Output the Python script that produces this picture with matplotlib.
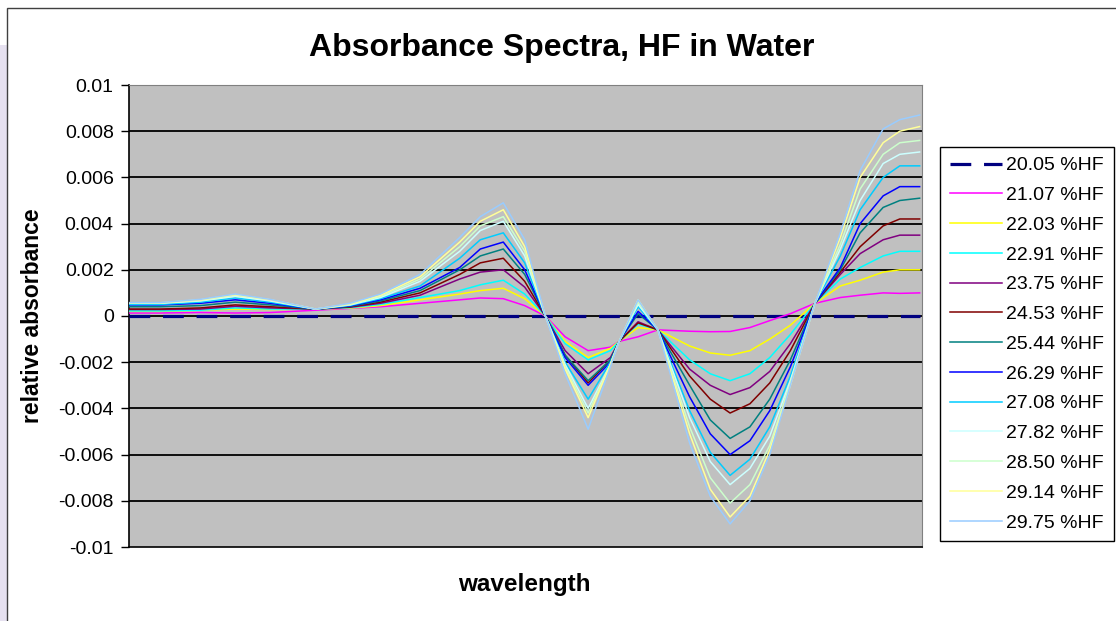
import matplotlib
matplotlib.use("Agg")
import matplotlib.pyplot as plt
from matplotlib.patches import Rectangle

# ---------------- data ----------------
# wavelength positions (arbitrary index, axis is unlabeled)
wavelength = [0, 3.9, 9.0, 13.4, 17.8, 23.5, 27.9, 31.7, 36.7, 41.7, 44.3, 47.2,
              49.9, 52.5, 55.0, 57.9, 60.7, 61.8, 64.2, 66.7, 70.7, 73.3, 75.8,
              78.3, 80.8, 83.4, 86.5, 89.7, 92.2, 95.1, 97.2, 99.7]

labels = ["20.05 %HF", "21.07 %HF", "22.03 %HF", "22.91 %HF", "23.75 %HF",
          "24.53 %HF", "25.44 %HF", "26.29 %HF", "27.08 %HF", "27.82 %HF",
          "28.50 %HF", "29.14 %HF", "29.75 %HF"]

colors = ["#000080", "#FF00FF", "#FFFF00", "#00FFFF", "#800080", "#800000",
          "#008080", "#0000FF", "#00CCFF", "#CCFFFF", "#CCFFCC", "#FFFF99",
          "#99CCFF"]

# relative absorbance values in units of 1e-3
hf_2005 = [0.0] * 32
hf_2107 = [0.13, 0.13, 0.15, 0.13, 0.15, 0.25, 0.33, 0.40, 0.55, 0.70, 0.78, 0.75,
           0.45, 0.0, -0.9, -1.5, -1.35, -1.1, -0.9, -0.6, -0.66, -0.68, -0.67,
           -0.5, -0.2, 0.1, 0.55, 0.8, 0.9, 1.0, 0.98, 1.0]
hf_2203 = [0.2, 0.2, 0.25, 0.3, 0.28, 0.3, 0.34, 0.45, 0.7, 0.95, 1.1, 1.2,
           0.75, 0.0, -1.1, -1.8, -1.4, -1.1, -0.5, -0.6, -1.3, -1.6, -1.7,
           -1.5, -1.0, -0.4, 0.55, 1.3, 1.55, 1.9, 2.0, 2.0]
hf_2291 = [0.22, 0.22, 0.25, 0.35, 0.3, 0.3, 0.36, 0.5, 0.8, 1.1, 1.35, 1.55,
           0.95, 0.0, -1.2, -1.9, -1.5, -1.1, -0.35, -0.6, -1.9, -2.5, -2.8,
           -2.5, -1.8, -0.8, 0.55, 1.6, 2.1, 2.6, 2.8, 2.8]
hf_2375 = [0.28, 0.28, 0.3, 0.42, 0.35, 0.3, 0.38, 0.55, 0.9, 1.6, 1.9, 2.0,
           1.25, 0.0, -1.5, -2.5, -1.8, -1.1, -0.25, -0.6, -2.3, -3.0, -3.4,
           -3.1, -2.4, -1.2, 0.55, 1.8, 2.7, 3.3, 3.5, 3.5]
hf_2453 = [0.3, 0.3, 0.35, 0.48, 0.4, 0.3, 0.4, 0.6, 1.0, 1.8, 2.3, 2.5,
           1.5, 0.0, -1.7, -2.9, -1.9, -1.1, -0.3, -0.6, -2.6, -3.6, -4.2,
           -3.8, -2.9, -1.5, 0.55, 1.9, 3.0, 3.9, 4.2, 4.2]
hf_2544 = [0.4, 0.4, 0.45, 0.6, 0.48, 0.3, 0.42, 0.65, 1.1, 2.0, 2.6, 2.9,
           1.8, 0.0, -1.7, -2.8, -1.9, -1.1, 0.1, -0.6, -3.0, -4.5, -5.3,
           -4.8, -3.6, -1.9, 0.55, 2.0, 3.6, 4.7, 5.0, 5.1]
hf_2629 = [0.48, 0.48, 0.55, 0.7, 0.55, 0.3, 0.44, 0.7, 1.2, 2.1, 2.9, 3.2,
           2.0, 0.0, -1.8, -3.0, -2.0, -1.1, 0.2, -0.6, -3.5, -5.1, -6.0,
           -5.4, -4.1, -2.2, 0.55, 2.1, 4.0, 5.2, 5.6, 5.6]
hf_2708 = [0.5, 0.5, 0.6, 0.78, 0.6, 0.3, 0.46, 0.75, 1.3, 2.5, 3.3, 3.6,
           2.3, 0.0, -2.0, -3.6, -2.0, -1.1, 0.4, -0.6, -4.1, -5.9, -6.9,
           -6.2, -4.8, -2.6, 0.55, 2.6, 4.6, 6.0, 6.5, 6.5]
hf_2782 = [0.55, 0.55, 0.65, 0.85, 0.65, 0.3, 0.48, 0.8, 1.5, 2.8, 3.7, 4.1,
           2.6, 0.0, -2.1, -4.0, -2.1, -1.1, 0.5, -0.6, -4.4, -6.3, -7.3,
           -6.6, -5.2, -2.8, 0.55, 2.9, 5.0, 6.6, 7.0, 7.1]
hf_2850 = [0.56, 0.56, 0.68, 0.9, 0.7, 0.3, 0.5, 0.85, 1.6, 3.0, 3.9, 4.3,
           2.8, 0.0, -2.2, -4.2, -2.1, -1.1, 0.6, -0.6, -4.8, -7.0, -8.1,
           -7.3, -5.6, -2.9, 0.55, 3.1, 5.5, 7.0, 7.5, 7.6]
hf_2914 = [0.57, 0.57, 0.7, 0.92, 0.7, 0.3, 0.52, 0.9, 1.7, 3.2, 4.1, 4.6,
           3.0, 0.0, -2.3, -4.4, -2.1, -1.1, 0.7, -0.6, -5.1, -7.5, -8.7,
           -7.8, -5.8, -3.0, 0.55, 3.4, 6.0, 7.5, 8.0, 8.2]
hf_2975 = [0.58, 0.58, 0.72, 0.95, 0.72, 0.3, 0.55, 0.95, 1.8, 3.4, 4.3, 4.9,
           3.3, 0.0, -2.5, -4.9, -2.2, -1.1, 0.7, -0.6, -5.5, -7.8, -9.0,
           -8.0, -6.0, -3.0, 0.55, 3.6, 6.3, 8.1, 8.5, 8.7]

series = [hf_2005, hf_2107, hf_2203, hf_2291, hf_2375, hf_2453, hf_2544,
          hf_2629, hf_2708, hf_2782, hf_2850, hf_2914, hf_2975]

y_ticks = [-0.01, -0.008, -0.006, -0.004, -0.002, 0, 0.002, 0.004, 0.006, 0.008, 0.01]
y_tick_labels = ["-0.01", "-0.008", "-0.006", "-0.004", "-0.002", "0",
                 "0.002", "0.004", "0.006", "0.008", "0.01"]

# ---------------- figure ----------------
plt.rcParams['font.family'] = ['Liberation Sans', 'DejaVu Sans']
W, H = 1116, 621
fig = plt.figure(figsize=(W / 100, H / 100), dpi=100)
fig.patch.set_facecolor("white")

# slide background strip and chart border (behind everything)
fig.patches.append(Rectangle((0, 0), 7 / W, 1 - 45 / H, transform=fig.transFigure,
                             facecolor="#E6E1F0", edgecolor="none", zorder=-10))
fig.patches.append(Rectangle((7 / W, -0.01), 1.0, 1 - 8 / H + 0.01, transform=fig.transFigure,
                             facecolor="white", edgecolor="#404040", linewidth=1.0, zorder=-9))

ax = fig.add_axes([129 / W, 1 - 547 / H, (922 - 129) / W, (547 - 85) / H])
ax.set_zorder(1)
ax.set_facecolor("#C0C0C0")

for i, (vals, lab, col) in enumerate(zip(series, labels, colors)):
    yv = [v * 1e-3 for v in vals]
    if i == 0:
        ax.plot(wavelength, yv, color=col, lw=2.3, dashes=(6.5, 4.0), label=lab, zorder=3)
    else:
        ax.plot(wavelength, yv, color=col, lw=1.1, label=lab, zorder=3)

ax.set_xlim(0, 100)
ax.set_ylim(-0.01, 0.01)
ax.set_yticks(y_ticks)
ax.set_yticklabels(y_tick_labels)
ax.set_xticks([])
ax.tick_params(axis='y', direction='out', length=6, width=1, color='black',
               labelsize=14, pad=5)
for t in y_ticks[1:-1]:
    ax.axhline(t, color='black', lw=1.3, zorder=1)

ax.spines['left'].set_color('black')
ax.spines['bottom'].set_color('black')
ax.spines['left'].set_linewidth(1.2)
ax.spines['bottom'].set_linewidth(1.2)
ax.spines['top'].set_color('#808080')
ax.spines['right'].set_color('#808080')

fig.text(562 / W, 1 - 48 / H, "Absorbance Spectra, HF in Water", fontsize=23,
         fontweight='bold', ha='center', va='center')
fig.text(33 / W, 1 - 316 / H, "relative absorbance", fontsize=16.5,
         fontweight='bold', rotation=90, ha='center', va='center')
fig.text(524 / W, 1 - 585 / H, "wavelength", fontsize=17.5,
         fontweight='bold', ha='center', va='center')

leg = fig.legend(loc='upper left', bbox_to_anchor=(940 / W, 1 - 147 / H),
                 bbox_transform=fig.transFigure, fontsize=14, frameon=True,
                 fancybox=False, edgecolor='black', framealpha=1,
                 handlelength=2.7, handletextpad=0.2, labelspacing=0.625,
                 borderpad=0.5, borderaxespad=0)
leg.get_frame().set_linewidth(1.0)

fig.savefig("out.png", dpi=100)
